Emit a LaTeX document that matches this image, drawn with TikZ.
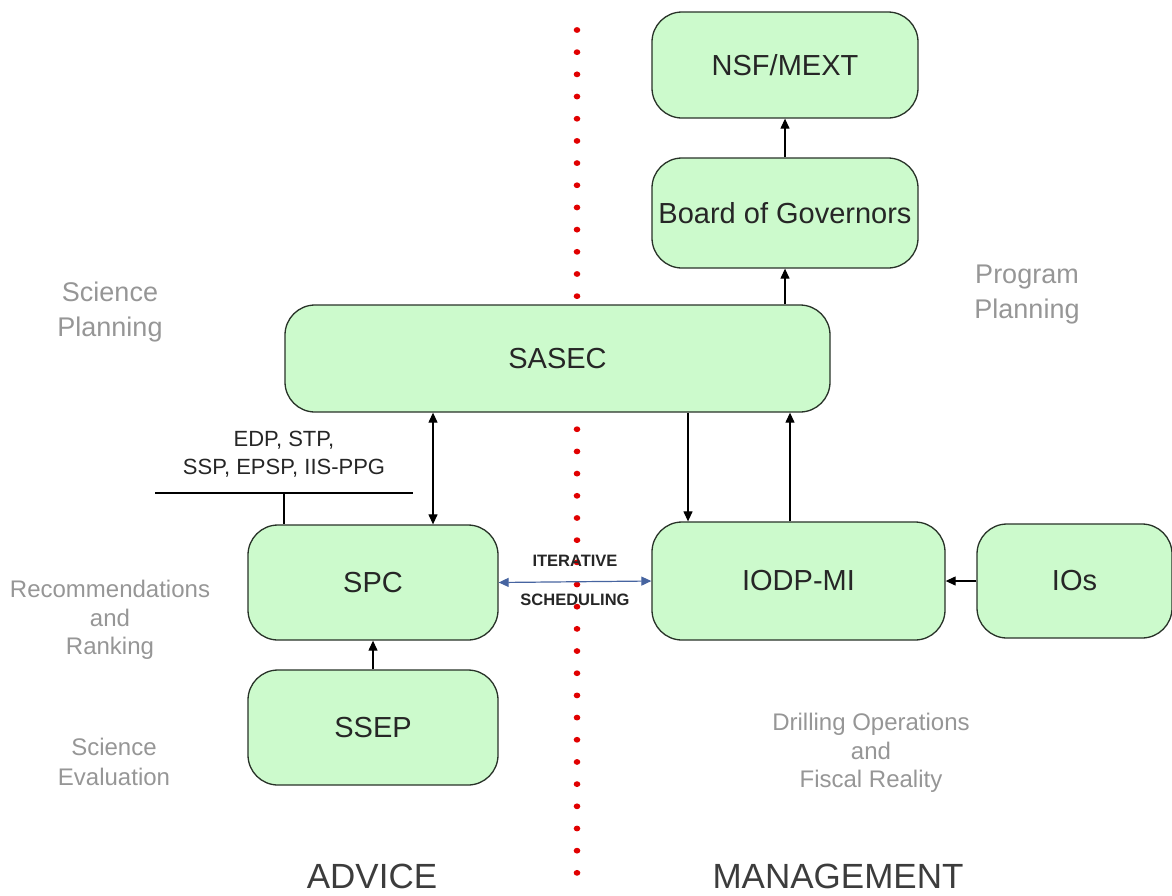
\documentclass[tikz,border=0pt]{standalone}
\usepackage{fontspec}
\setmainfont{Liberation Sans}
\usetikzlibrary{arrows.meta}
\definecolor{boxfill}{RGB}{204,250,204}
\definecolor{boxline}{RGB}{40,50,40}
\definecolor{graytxt}{RGB}{150,150,150}
\definecolor{darktxt}{RGB}{60,60,60}
\definecolor{dotred}{RGB}{225,0,0}
\definecolor{iterblue}{RGB}{70,100,160}
\tikzset{
  box/.style={draw=boxline, line width=1.3pt, fill=boxfill, rounded corners=30pt,
    inner sep=0pt, font=\fontsize{29}{34}\selectfont, text=black!85},
  arr/.style={line width=1.2pt, -{Triangle[length=10pt,width=9pt]}},
  darr/.style={line width=1.2pt, {Triangle[length=10pt,width=9pt]}-{Triangle[length=10pt,width=9pt]}},
  graylbl/.style={text=graytxt, align=center, inner sep=0pt},
  biglbl/.style={text=darktxt, font=\fontsize{35}{40}\selectfont, inner sep=0pt, anchor=base},
  iterlbl/.style={font=\bfseries\fontsize{16.5}{19}\selectfont, text=black!85, inner sep=0pt}
}
\begin{document}
\begin{tikzpicture}[x=1pt,y=-1pt]
\useasboundingbox (0,0) rectangle (1172,895);
% dotted divider
\foreach \i in {0,...,38}
  \fill[dotred] (577,30+\i*22.18) ellipse (3.3 and 2.9);
% boxes
\node[box, minimum width=266pt, minimum height=106pt] (nsf) at (785,65) {NSF/MEXT};
\node[box, minimum width=266pt, minimum height=110pt] (bog) at (785,213) {Board of Governors};
\node[box, minimum width=545pt, minimum height=107pt] (sasec) at (557.5,358.5) {SASEC};
\node[box, minimum width=250pt, minimum height=115pt] (spc) at (373,582.5) {SPC};
\node[box, minimum width=250pt, minimum height=115pt] (ssep) at (373,727.5) {SSEP};
\node[box, minimum width=293pt, minimum height=118pt] (iodp) at (798.5,581) {IODP-MI};
\node[box, minimum width=195pt, minimum height=114pt] (ios) at (1074.5,581) {IOs};
% x positions
\coordinate (xbog) at (785,0);
\coordinate (xspc) at (433,0);
\coordinate (xdown) at (688,0);
\coordinate (xup) at (790,0);
% connectors
\draw[arr] (bog.north) -- (nsf.south);
\draw[arr] (sasec.north -| xbog) -- (bog.south);
\draw[darr] (sasec.south -| xspc) -- (spc.north -| xspc);
\draw[arr] (sasec.south -| xdown) -- (iodp.north -| xdown);
\draw[arr] (iodp.north -| xup) -- (sasec.south -| xup);
\draw[arr] (ssep.north) -- (spc.south);
\draw[arr] (ios.west) -- (iodp.east);
\draw[line width=1.2pt, iterblue, {Triangle[length=10pt,width=9pt]}-{Triangle[length=10pt,width=9pt]}] (spc.east) -- (iodp.west);
% panel bracket
\coordinate (brl) at (155,493);
\coordinate (brr) at (413,493);
\coordinate (brm) at (284,493);
\draw[line width=1.1pt] (brl) -- (brr);
\draw[line width=1.1pt] (brm) -- (spc.north -| brm);
\node[align=center, font=\fontsize{22}{28}\selectfont, text=black!85, inner sep=0pt] (panels) at (284,454) {EDP, STP,\\SSP, EPSP, IIS-PPG};
% iterative scheduling
\node[iterlbl] (iter) at (575,561) {ITERATIVE};
\node[iterlbl] (sched) at (575,600) {SCHEDULING};
% gray labels
\node[graylbl, font=\fontsize{27}{35}\selectfont] (scipl) at (110,312) {Science\\Planning};
\node[graylbl, font=\fontsize{27}{35}\selectfont] (progpl) at (1027,295) {Program\\Planning};
\node[graylbl, font=\fontsize{24}{28.5}\selectfont] (recom) at (110,620) {Recommendations\\and\\Ranking};
\node[graylbl, font=\fontsize{24}{30}\selectfont] (scieval) at (114,762) {Science\\Evaluation};
\node[graylbl, font=\fontsize{24}{28.5}\selectfont] (drill) at (871,753) {Drilling Operations\\and\\Fiscal Reality};
% bottom labels
\node[biglbl] (advice) at (372,888) {ADVICE};
\node[biglbl] (mgmt) at (838,888) {MANAGEMENT};
\end{tikzpicture}
\end{document}
